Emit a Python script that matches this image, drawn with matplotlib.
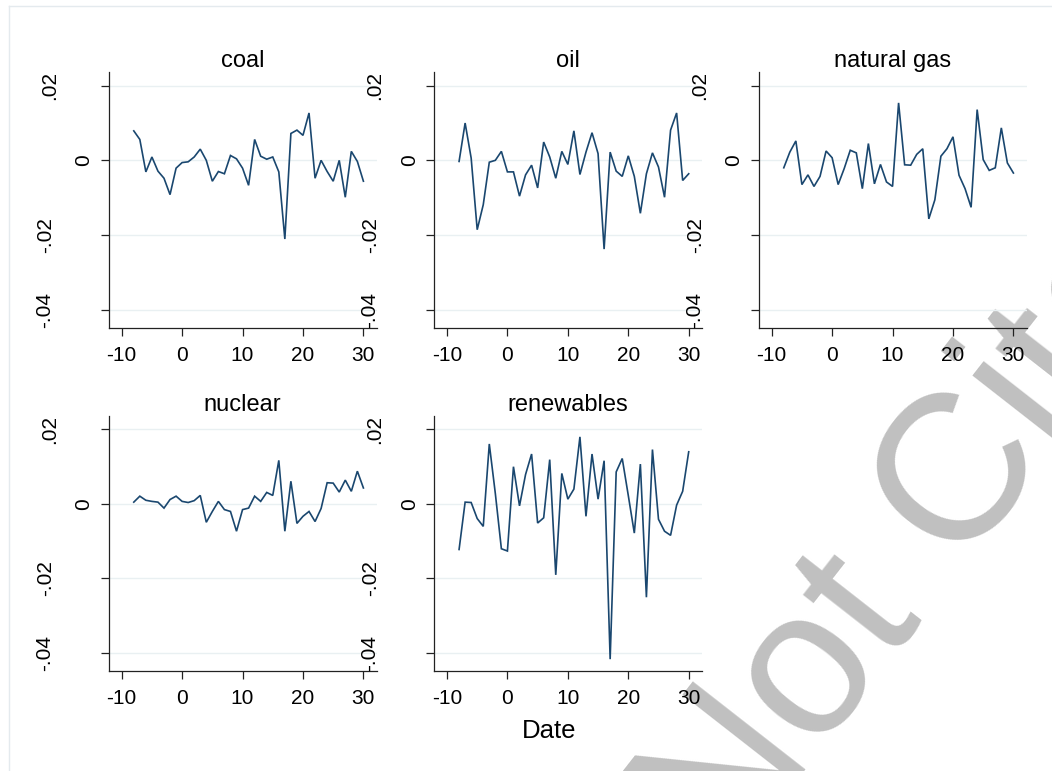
import matplotlib
matplotlib.use('Agg')
import matplotlib.pyplot as plt
from matplotlib.transforms import ScaledTranslation
from matplotlib.lines import Line2D

plt.rcParams['font.family'] = ['Liberation Sans', 'DejaVu Sans']

# ---------------- data ----------------
dates = [-8, -7, -6, -5, -4, -3, -2, -1, 0, 1, 2, 3, 4, 5, 6, 7, 8, 9, 10,
         11, 12, 13, 14, 15, 16, 17, 18, 19, 20, 21, 22, 23, 24, 25, 26, 27,
         28, 29, 30]

coal = [0.0079, 0.0056, -0.0031, 0.0009, -0.0029, -0.0048, -0.0092, -0.0021,
        -0.0006, -0.0004, 0.0009, 0.0030, 0.0000, -0.0056, -0.0030, -0.0036,
        0.0013, 0.0004, -0.0021, -0.0067, 0.0056, 0.0011, 0.0003, 0.0009,
        -0.0031, -0.0211, 0.0072, 0.0081, 0.0067, 0.0127, -0.0048, 0.0000,
        -0.0030, -0.0056, 0.0000, -0.0099, 0.0024, -0.0003, -0.0056]

oil = [-0.0003, 0.0100, 0.0006, -0.0186, -0.0119, -0.0005, 0.0000, 0.0024,
       -0.0031, -0.0031, -0.0096, -0.0039, -0.0013, -0.0074, 0.0049, 0.0009,
       -0.0048, 0.0024, -0.0011, 0.0079, -0.0038, 0.0022, 0.0074, 0.0018,
       -0.0238, 0.0022, -0.0029, -0.0043, 0.0012, -0.0043, -0.0142, -0.0036,
       0.0020, -0.0018, -0.0099, 0.0081, 0.0127, -0.0054, -0.0036]

natural_gas = [-0.0020, 0.0022, 0.0052, -0.0065, -0.0039, -0.0070, -0.0043,
               0.0025, 0.0007, -0.0065, -0.0022, 0.0027, 0.0020, -0.0076,
               0.0045, -0.0063, -0.0011, -0.0058, -0.0070, 0.0154, -0.0012,
               -0.0013, 0.0016, 0.0031, -0.0157, -0.0106, 0.0011, 0.0031,
               0.0063, -0.0040, -0.0076, -0.0126, 0.0136, 0.0002, -0.0027,
               -0.0020, 0.0087, -0.0007, -0.0034]

nuclear = [0.0004, 0.0020, 0.0009, 0.0006, 0.0004, -0.0012, 0.0011, 0.0020,
           0.0006, 0.0003, 0.0008, 0.0022, -0.0050, -0.0021, 0.0006, -0.0016,
           -0.0021, -0.0074, -0.0016, -0.0012, 0.0020, 0.0006, 0.0030, 0.0022,
           0.0116, -0.0074, 0.0060, -0.0053, -0.0034, -0.0021, -0.0048,
           -0.0013, 0.0056, 0.0055, 0.0031, 0.0063, 0.0033, 0.0087, 0.0042]

renewables = [-0.0123, 0.0004, 0.0003, -0.0040, -0.0061, 0.0160, 0.0027,
              -0.0121, -0.0127, 0.0099, -0.0006, 0.0078, 0.0133, -0.0052,
              -0.0038, 0.0118, -0.0191, 0.0081, 0.0012, 0.0039, 0.0179,
              -0.0034, 0.0133, 0.0012, 0.0115, -0.0417, 0.0085, 0.0121,
              0.0022, -0.0079, 0.0106, -0.0251, 0.0145, -0.0042, -0.0074,
              -0.0085, -0.0004, 0.0033, 0.0139]

panel_titles = ['coal', 'oil', 'natural gas', 'nuclear', 'renewables']
panel_series = [coal, oil, natural_gas, nuclear, renewables]
x_ticks = [-10, 0, 10, 20, 30]
x_tick_labels = ['-10', '0', '10', '20', '30']
y_ticks = [-0.04, -0.02, 0.0, 0.02]
y_tick_labels = ['-.04', '-.02', '0', '.02']
x_title = 'Date'
watermark = 'Do Not Cite'

# ---------------- layout ----------------
W, H = 1052, 771
DPI = 100
fig = plt.figure(figsize=(W / DPI, H / DPI), dpi=DPI)
fig.patch.set_facecolor('white')

LINE_COLOR = '#1A476F'
GRID_COLOR = '#E9F0F2'

# watermark (behind everything)
fig.text(856 / W, 1 - 705 / H, watermark, fontsize=150, rotation=52,
         rotation_mode='anchor', ha='center', va='baseline',
         color='#C0C0C0', zorder=-5)

# thin graph-region frame (left and top edges visible)
fig.add_artist(Line2D([8.5 / W, 8.5 / W], [0, 1 - 5.5 / H], color='#E4EAEE',
                      lw=1.0, transform=fig.transFigure, zorder=-4))
fig.add_artist(Line2D([8.5 / W, 1], [1 - 5.5 / H, 1 - 5.5 / H], color='#E4EAEE',
                      lw=1.0, transform=fig.transFigure, zorder=-4))

col_left_px = [108.7, 434.0, 758.7]
row_top_px = [72.3, 415.6]
ax_w_px, ax_h_px = 268.0, 255.5

# per-label extra horizontal offsets (pixels) for the rotated y labels
y_label_extra_px = {'-.04': -39.5, '-.02': -38.5, '0': 0.0, '.02': -34.8}

for i, (name, vals) in enumerate(zip(panel_titles, panel_series)):
    r, c = divmod(i, 3)
    left = col_left_px[c] / W
    bottom = 1 - (row_top_px[r] + ax_h_px) / H
    ax = fig.add_axes([left, bottom, ax_w_px / W, ax_h_px / H])
    ax.patch.set_alpha(0)
    ax.plot(dates, vals, color=LINE_COLOR, lw=1.2, solid_joinstyle='miter')
    ax.set_xlim(-12.15, 32.2)
    ax.set_ylim(-0.0449, 0.0236)
    ax.set_xticks(x_ticks)
    ax.set_xticklabels(x_tick_labels)
    ax.set_yticks(y_ticks)
    ax.set_yticklabels(y_tick_labels, rotation=90, va='center', ha='center')
    ax.yaxis.grid(True, color=GRID_COLOR, lw=1.0)
    ax.set_axisbelow(True)
    for s in ('top', 'right'):
        ax.spines[s].set_visible(False)
    for s in ('left', 'bottom'):
        ax.spines[s].set_linewidth(0.9)
        ax.spines[s].set_color('#222222')
    ax.tick_params(axis='x', direction='out', length=6, width=0.9,
                   color='#222222', labelsize=15, pad=7.0)
    ax.tick_params(axis='y', direction='out', length=6, width=0.9,
                   color='#222222', labelsize=15, pad=11.7)
    ax.set_title(name, fontsize=17, pad=1.5)
    for lab in ax.get_yticklabels():
        dx = y_label_extra_px.get(lab.get_text(), 0.0)
        lab.set_transform(lab.get_transform() +
                          ScaledTranslation(dx / DPI, 0, fig.dpi_scale_trans))

fig.text(549 / W, 1 - 730.5 / H, x_title, fontsize=18.5,
         ha='center', va='center')

fig.savefig('out.png', dpi=DPI)
